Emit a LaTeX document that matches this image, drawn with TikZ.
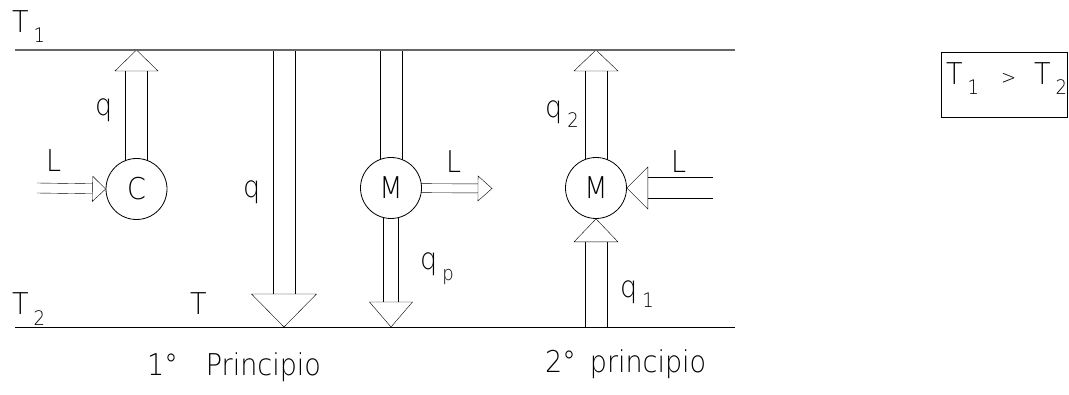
\documentclass[tikz,border=0pt]{standalone}
\usepackage{fontspec}
\usetikzlibrary{positioning,calc,backgrounds}
\newfontfamily\cadfont[FakeStretch=0.9]{DejaVuSans-ExtraLight.ttf}
\newcommand\lowidx[1]{\,\raisebox{-10pt}{\fontsize{20}{20}\selectfont #1}}
% 空心箭头: 起点, 尖端, 杆半宽, 头半宽, 头长
\newcommand\hollowarrow[5]{%
  \path ($(#2)!#5!(#1)$) coordinate (hb);
  \draw ($(#1)!#3!90:(hb)$) -- ($(hb)!#3!-90:(#1)$)
        ($(#1)!#3!-90:(hb)$) -- ($(hb)!#3!90:(#1)$);
  \draw ($(hb)!#4!90:(#1)$) -- ($(hb)!#4!-90:(#1)$) -- (#2) -- cycle;
}

\begin{document}
\begin{tikzpicture}[x=1pt,y=1pt,line width=0.8pt,
  machine/.style={circle,draw,fill=white,minimum size=61pt,inner sep=0pt,
    font=\cadfont\fontsize{30}{30}\selectfont},
  lbl/.style={inner sep=0pt,font=\cadfont\fontsize{30}{30}\selectfont}]
	\useasboundingbox (0,0) rectangle (1069,394);
	
	% 两条温度线 T1 (上) 和 T2 (下)
	\coordinate (T1l) at (15,344); \coordinate (T1r) at (735,344);
	\coordinate (T2l) at (15,67);  \coordinate (T2r) at (735,67);
	\draw[black!60,line width=1.2pt] (T1l) -- (T1r);
	\draw (T2l) -- (T2r);
	
	% 机器: 压缩机 C, 发动机 M
	\node[machine] (C)  at (136.5,205) {C};
	\node[machine] (M1) at (391,206) {M};
	\node[machine] (M2) at (596,206) {M};
	
	% 箭头的端点
	\coordinate (LinC) at (37,206);
	\coordinate (qtop) at (284,344);
	\coordinate (qbot) at (284,67);
	\coordinate (LoutM) at (492,205.5);
	\coordinate (LinM) at (713,206);
	
	% 空心箭头画在背景层, 圆盖住杆的末端
	\begin{pgfonlayer}{background}
		\hollowarrow{C}{C |- T1l}{11pt}{21.5pt}{21pt}
		\hollowarrow{LinC}{C.west}{5pt}{12.5pt}{13pt}
		\hollowarrow{qtop}{qbot}{11pt}{32.5pt}{33pt}
		\draw ([xshift=-11pt]M1 |- T1l) -- ([xshift=-11pt]M1.center)
		      ([xshift=11pt]M1 |- T1l) -- ([xshift=11pt]M1.center);
		\hollowarrow{M1}{M1 |- T2l}{7.5pt}{21.5pt}{25pt}
		\hollowarrow{M1.center}{LoutM}{4.5pt}{12.5pt}{14pt}
		\hollowarrow{M2}{M2 |- T1l}{11pt}{22pt}{21pt}
		\hollowarrow{M2 |- T2l}{M2.south}{11pt}{22pt}{23pt}
		\hollowarrow{LinM}{M2.east}{10.5pt}{21pt}{21pt}
	\end{pgfonlayer}
	
	% 标注
	\node[lbl,anchor=base west] (t1)  at (12,361) {T\lowidx{1}};
	\node[lbl,anchor=base west] (t2)  at (12,79)  {T\lowidx{2}};
	\node[lbl,anchor=base west] (tt)  at (190,79) {T};
	\node[lbl,anchor=base west] (qC)  at (95,278) {q};
	\node[lbl,anchor=base west] (LC)  at (46,222) {L};
	\node[lbl,anchor=base west] (qB)  at (243,196) {q};
	\node[lbl,anchor=base west] (LM1) at (446,221) {L};
	\node[lbl,anchor=base west] (qp)  at (420,124) {q\lowidx{p}};
	\node[lbl,anchor=base west] (q2)  at (545,276) {q\lowidx{2}};
	\node[lbl,anchor=base west] (LM2) at (671,221) {L};
	\node[lbl,anchor=base west] (q1)  at (620,96)  {q\lowidx{1}};
	
	% 标题
	\node[lbl,anchor=base west] (p1) at (147,19) {1°\hspace{28pt}Principio};
	\node[lbl,anchor=base west] (p2) at (545,22) {2°\hspace{14pt}principio};
	
	% 右上角的框
	\node[draw,anchor=north west,minimum width=126.5pt,minimum height=65pt,inner sep=0pt]
		(cmp) at (940.5,342) {};
	\node[lbl,anchor=base west] (cmptxt) at (946,309)
		{T\lowidx{1}\hspace{22pt}{\fontsize{20}{20}\selectfont >}\hspace{18pt}T\lowidx{2}};
\end{tikzpicture}
\end{document}
